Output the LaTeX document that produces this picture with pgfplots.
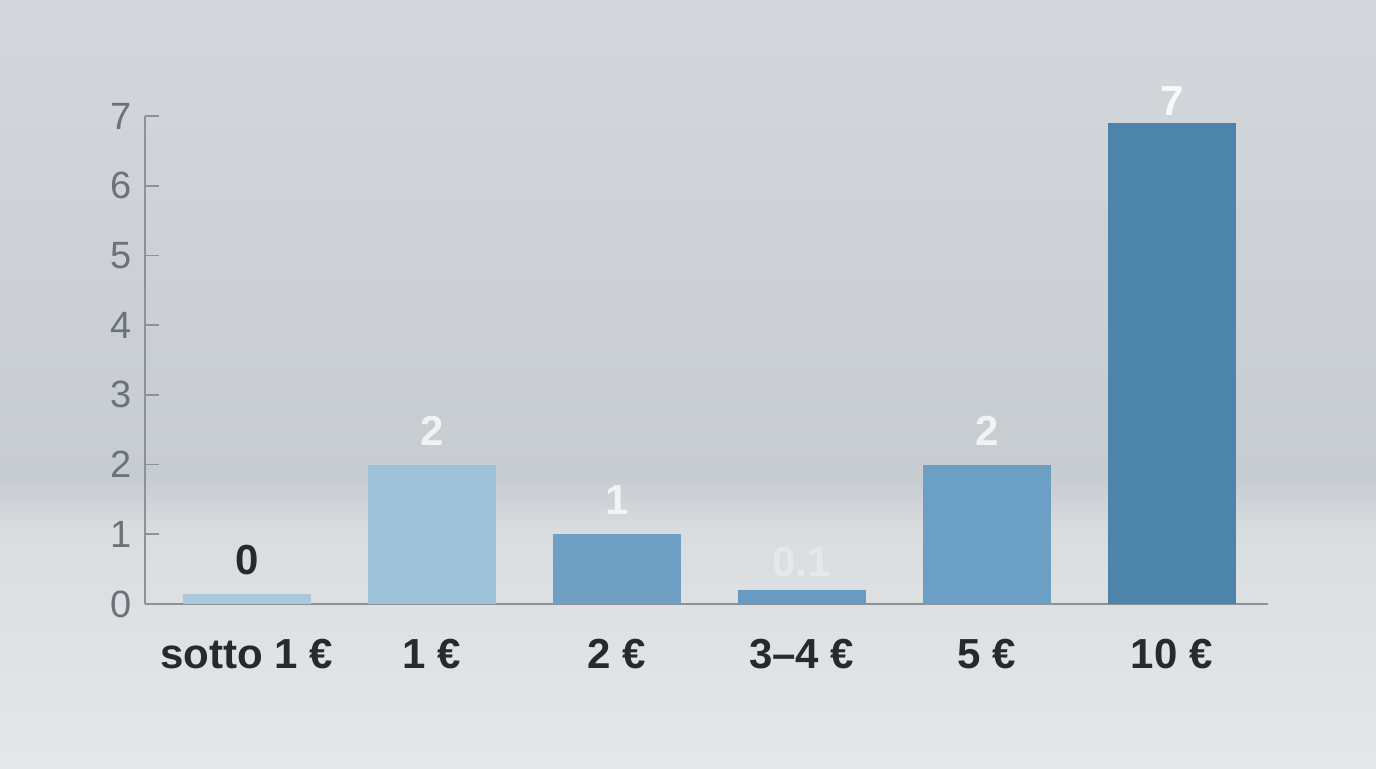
\documentclass[border=0pt]{standalone}
\usepackage{fontspec}
\setmainfont{Liberation Sans}
\usepackage{pgfplots}
\pgfplotsset{compat=1.18}

\definecolor{bgtop}{RGB}{212,215,219}
\definecolor{bgmid}{RGB}{199,204,209}
\definecolor{bglow}{RGB}{218,221,224}
\definecolor{bgbot}{RGB}{229,231,234}
\definecolor{axgray}{RGB}{140,146,152}
\definecolor{tickgray}{RGB}{108,114,121}
\definecolor{labdark}{RGB}{38,42,47}
\definecolor{barA}{RGB}{170,200,220}
\definecolor{barB}{RGB}{158,194,217}
\definecolor{barC}{RGB}{111,160,196}
\definecolor{barD}{RGB}{104,155,193}
\definecolor{barE}{RGB}{107,159,195}
\definecolor{barF}{RGB}{77,133,170}

\pgfplotsset{
  vlabel/.style={every node near coord/.append style={
      font=\bfseries\fontsize{21}{21}\selectfont, anchor=center}},
}

\begin{document}
\begin{tikzpicture}
  % backdrop with a soft horizon
  \shade[top color=bgtop, bottom color=bgmid] (0pt,144pt) rectangle (688pt,384pt);
  \shade[top color=bgmid, bottom color=bglow] (0pt,118pt) rectangle (688pt,144.5pt);
  \shade[top color=bglow, bottom color=bgbot] (0pt,0pt) rectangle (688pt,118.5pt);
  \useasboundingbox (0pt,0pt) rectangle (688pt,384pt);

  \begin{axis}[
    at={(72.5pt,82pt)}, anchor=south west,
    scale only axis, width=561.5pt, height=244pt,
    xmin=-0.55, xmax=5.52, ymin=0, ymax=7,
    axis x line*=bottom, axis y line*=left,
    axis line style={draw=axgray, line width=0.8pt, -},
    xtick={0,...,5},
    xticklabels={sotto 1~€, 1~€, 2~€, 3--4~€, 5~€, 10~€},
    ytick={0,...,7},
    x tick style={draw=none},
    y tick style={draw=axgray, line width=0.8pt},
    tick align=inside, major tick length=7pt,
    /pgf/number format/assume math mode=true,
    y tick label style={font=\fontsize{19}{19}\selectfont, text=tickgray, xshift=-3pt},
    x tick label style={font=\bfseries\fontsize{21}{21}\selectfont, text=labdark, yshift=-7pt},
    ybar, bar width=64pt, bar shift=0pt,
    nodes near coords,
  ]
    \addplot[ybar, bar shift=0pt, fill=barA, draw=none, vlabel,
      nodes near coords={0},
      every node near coord/.append style={text=labdark, yshift=17pt}]
      coordinates {(0,0.14)};
    \addplot[ybar, bar shift=0pt, fill=barB, draw=none, vlabel,
      nodes near coords={2},
      every node near coord/.append style={text=white, text opacity=0.75, yshift=17pt}]
      coordinates {(1,2)};
    \addplot[ybar, bar shift=0pt, fill=barC, draw=none, vlabel,
      nodes near coords={1},
      every node near coord/.append style={text=white, text opacity=0.75, yshift=17pt}]
      coordinates {(2,1)};
    \addplot[ybar, bar shift=0pt, fill=barD, draw=none, vlabel,
      nodes near coords={0.1},
      every node near coord/.append style={text=white, text opacity=0.3, yshift=14pt}]
      coordinates {(3,0.2)};
    \addplot[ybar, bar shift=0pt, fill=barE, draw=none, vlabel,
      nodes near coords={2},
      every node near coord/.append style={text=white, text opacity=0.75, yshift=17pt}]
      coordinates {(4,2)};
    \addplot[ybar, bar shift=0pt, fill=barF, draw=none, vlabel,
      nodes near coords={7},
      every node near coord/.append style={text=white, text opacity=0.85, yshift=11pt}]
      coordinates {(5,6.9)};
  \end{axis}
\end{tikzpicture}
\end{document}
